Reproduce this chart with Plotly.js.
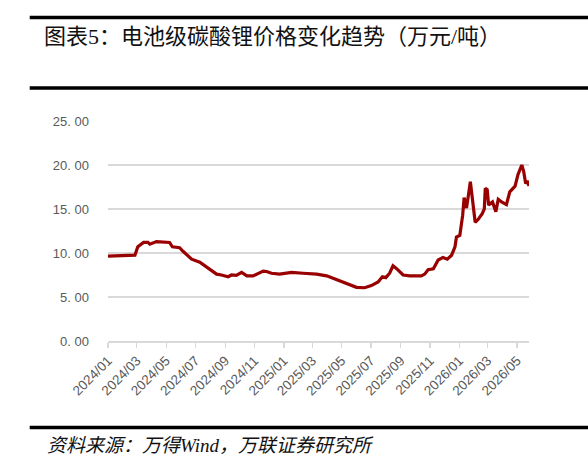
<!DOCTYPE html>
<html>
<head>
<meta charset="utf-8">
<script src="https://cdn.plot.ly/plotly-3.0.1.min.js"></script>
<style>
html,body{margin:0;padding:0;background:#fff;}
#chart{width:588px;height:458px;}
</style>
</head>
<body>
<div id="chart"></div>
<script>
// 电池级碳酸锂价格（万元/吨）
var dates = [
 '2024-01-01','2024-01-25','2024-02-05','2024-02-22','2024-02-26','2024-03-03','2024-03-15','2024-03-24','2024-03-28','2024-04-11',
 '2024-05-08','2024-05-14','2024-05-29','2024-06-05','2024-06-23','2024-07-10','2024-07-20','2024-07-31','2024-08-14','2024-08-24',
 '2024-09-07','2024-09-14','2024-09-24','2024-10-05','2024-10-16','2024-10-29','2024-11-08','2024-11-19','2024-11-26','2024-12-06',
 '2024-12-23','2025-01-03','2025-01-17','2025-02-10','2025-03-10','2025-03-31','2025-04-20','2025-05-11','2025-06-01','2025-06-18',
 '2025-07-02','2025-07-16','2025-07-25','2025-08-01','2025-08-09','2025-08-16','2025-08-23','2025-09-06','2025-09-20','2025-10-14',
 '2025-10-21','2025-10-28','2025-11-08','2025-11-18','2025-11-28','2025-12-07','2025-12-16','2025-12-23','2025-12-26','2026-01-02',
 '2026-01-08','2026-01-11','2026-01-16','2026-01-24','2026-01-29','2026-02-03','2026-02-09','2026-02-18','2026-02-22','2026-02-24',
 '2026-02-28','2026-03-03','2026-03-11','2026-03-18','2026-03-23','2026-03-30','2026-04-09','2026-04-16','2026-04-27','2026-05-03',
 '2026-05-11','2026-05-15','2026-05-19','2026-05-23','2026-05-26'
];
var prices = [
 9.65,9.7,9.75,9.7,9.75,10.7,11.2,11.2,11.0,11.3,
 11.2,10.7,10.6,10.2,9.3,8.95,8.55,8.07,7.6,7.5,
 7.3,7.5,7.45,7.8,7.4,7.4,7.7,7.95,7.9,7.7,
 7.6,7.65,7.8,7.7,7.6,7.4,7.0,6.55,6.1,6.05,
 6.3,6.7,7.3,7.2,7.7,8.55,8.25,7.5,7.4,7.4,
 7.6,8.1,8.2,9.2,9.5,9.3,9.75,10.7,11.8,12.0,
 14.3,16.3,15.1,18.1,15.9,13.5,13.8,14.5,15.0,17.35,
 17.2,15.45,15.8,14.7,16.1,15.8,15.5,16.95,17.6,18.9,
 20.0,19.25,17.9,18.2,17.6
];
var xTickVals = ['2024-01-01','2024-03-01','2024-05-01','2024-07-01','2024-09-01','2024-11-01',
 '2025-01-01','2025-03-01','2025-05-01','2025-07-01','2025-09-01','2025-11-01',
 '2026-01-01','2026-03-01','2026-05-01'];
var xTickLabels = ['2024/01','2024/03','2024/05','2024/07','2024/09','2024/11',
 '2025/01','2025/03','2025/05','2025/07','2025/09','2025/11',
 '2026/01','2026/03','2026/05'];
var yTickVals = [0,5,10,15,20,25];
var yTickLabels = ['0. 00','5. 00','10. 00','15. 00','20. 00','25. 00'];

var titleText = '图表5：电池级碳酸锂价格变化趋势（万元/吨）';
var sourceText = '资料来源：万得Wind，万联证券研究所';

// layout geometry (pixels)
var W = 588, H = 458;
var L = 108.3, R = 529.3, T = 121, B = 341;
var pw = R - L, ph = B - T;
function px(x){ return (x - L) / pw; }
function py(y){ return (B - y) / ph; }

var trace = {
  x: dates, y: prices, type: 'scatter', mode: 'lines',
  line: {color: '#990000', width: 3.2, shape: 'linear'},
  hoverinfo: 'skip'
};

var layout = {
  width: W, height: H,
  margin: {l: L, r: W - R, t: T, b: H - B, pad: 0},
  paper_bgcolor: '#ffffff', plot_bgcolor: '#ffffff',
  showlegend: false,
  font: {family: 'Liberation Sans, Arial, sans-serif', color: '#595959'},
  xaxis: {
    type: 'date',
    range: ['2024-01-01', '2026-05-26'],
    tickmode: 'array', tickvals: xTickVals, ticktext: xTickLabels,
    tickangle: -45,
    tickfont: {size: 13.5, color: '#595959', family: 'Liberation Sans, Arial, sans-serif'},
    ticks: 'outside', ticklen: 5, tickcolor: '#D9D9D9', tickwidth: 1.3,
    showgrid: false, zeroline: false,
    showline: true, linecolor: '#D9D9D9', linewidth: 1.5,
    fixedrange: true
  },
  yaxis: {
    range: [0, 25],
    tickmode: 'array', tickvals: yTickVals, ticktext: yTickLabels,
    tickfont: {size: 13, color: '#595959', family: 'Liberation Sans, Arial, sans-serif'},
    showgrid: true, gridcolor: '#D9D9D9', gridwidth: 1.4,
    zeroline: false, showline: false, ticks: '',
    ticklabelstandoff: 18,
    fixedrange: true
  },
  title: {
    text: titleText,
    xref: 'container', yref: 'container',
    x: 44 / W, xanchor: 'left',
    y: 1 - 36 / H, yanchor: 'middle',
    font: {family: 'Liberation Serif, Noto Sans CJK SC, serif', size: 22, color: '#111111'}
  },
  annotations: [{
    text: '<i>' + sourceText + '</i>',
    xref: 'paper', yref: 'paper',
    x: px(45), y: py(445), xanchor: 'left', yanchor: 'middle',
    showarrow: false,
    font: {family: 'Liberation Serif, Noto Sans CJK SC, serif', size: 19, color: '#111111'}
  }],
  shapes: [
    {type: 'line', xref: 'paper', yref: 'paper', x0: px(30), x1: px(590), y0: py(17.5), y1: py(17.5), line: {color: '#000000', width: 3.6}},
    {type: 'line', xref: 'paper', yref: 'paper', x0: px(30), x1: px(590), y0: py(88), y1: py(88), line: {color: '#000000', width: 3.6}},
    {type: 'line', xref: 'paper', yref: 'paper', x0: px(30), x1: px(590), y0: py(427.5), y1: py(427.5), line: {color: '#000000', width: 3.6}}
  ]
};

Plotly.newPlot('chart', [trace], layout, {displayModeBar: false, staticPlot: true});
</script>
</body>
</html>
